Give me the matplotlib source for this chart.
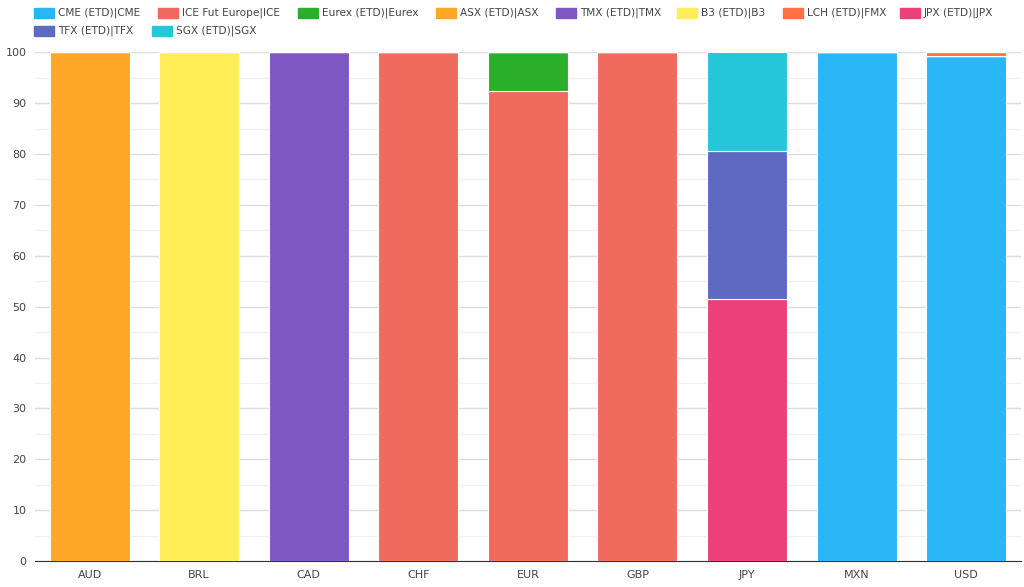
import matplotlib.pyplot as plt
import matplotlib.patches as mpatches
import numpy as np

currencies = ['AUD', 'BRL', 'CAD', 'CHF', 'EUR', 'GBP', 'JPY', 'MXN', 'USD']

# share (%) per venue, same order as currencies
cme   = [0, 0, 0, 0, 0, 0, 0, 100, 99.2]
ice   = [0, 0, 0, 100, 92.4, 100, 0, 0, 0]
eurex = [0, 0, 0, 0, 7.6, 0, 0, 0, 0]
asx   = [100, 0, 0, 0, 0, 0, 0, 0, 0]
tmx   = [0, 0, 100, 0, 0, 0, 0, 0, 0]
b3    = [0, 100, 0, 0, 0, 0, 0, 0, 0]
lch   = [0, 0, 0, 0, 0, 0, 0, 0, 0.8]
jpx   = [0, 0, 0, 0, 0, 0, 51.5, 0, 0]
tfx   = [0, 0, 0, 0, 0, 0, 29.1, 0, 0]
sgx   = [0, 0, 0, 0, 0, 0, 19.4, 0, 0]

series = [
    ('CME (ETD)|CME', cme, '#29b6f6'),
    ('ICE Fut Europe|ICE', ice, '#ef6b5e'),
    ('Eurex (ETD)|Eurex', eurex, '#2baf2b'),
    ('ASX (ETD)|ASX', asx, '#ffa726'),
    ('TMX (ETD)|TMX', tmx, '#7e57c2'),
    ('B3 (ETD)|B3', b3, '#ffee58'),
    ('LCH (ETD)|FMX', lch, '#ff7043'),
    ('JPX (ETD)|JPX', jpx, '#ec407a'),
    ('TFX (ETD)|TFX', tfx, '#5c6bc0'),
    ('SGX (ETD)|SGX', sgx, '#26c6da'),
]

plt.rcParams['font.family'] = ['DejaVu Sans']
W, H = 1024, 587
fig = plt.figure(figsize=(W / 100, H / 100), dpi=100)
ax = fig.add_axes([0.034, 0.044, 0.963, 0.867])

x = np.arange(len(currencies))
bottom = np.zeros(len(currencies))
for name, vals, col in series:
    vals = np.array(vals, dtype=float)
    ax.bar(x, vals, 0.73, bottom=bottom, color=col, edgecolor='white',
           linewidth=0.8, label=name, zorder=3)
    bottom += vals

ax.set_xlim(-0.5, len(currencies) - 0.5)
ax.set_ylim(0, 100)
ax.set_yticks(range(0, 101, 10))
ax.set_yticks(range(5, 100, 10), minor=True)
ax.set_xticks(x)
ax.set_xticklabels(currencies)
ax.grid(axis='y', which='major', color='#dddddd', linewidth=1, zorder=0)
ax.grid(axis='y', which='minor', color='#f0f0f0', linewidth=1, zorder=0)
for s in ['top', 'right', 'left']:
    ax.spines[s].set_visible(False)
ax.spines['bottom'].set_color('#333333')
ax.tick_params(axis='both', which='both', length=0, labelsize=8, colors='#444444')
ax.tick_params(axis='y', pad=6)
ax.tick_params(axis='x', pad=6)

# legend laid out in a flowing row like the original (pixel positions)
leg_pos = [(34, 13), (158, 13), (298, 13), (436, 13), (556, 13),
           (677, 13), (783, 13), (900, 13), (34, 31), (152, 31)]
for (name, vals, col), (px, py) in zip(series, leg_pos):
    fig.patches.append(mpatches.Rectangle((px / W, 1 - (py + 4.5) / H), 20 / W, 9 / H,
                                          transform=fig.transFigure, color=col))
    fig.text((px + 24) / W, 1 - py / H, name, fontsize=7.6, color='#444444',
             va='center', ha='left')

fig.savefig('out.png', dpi=100)
